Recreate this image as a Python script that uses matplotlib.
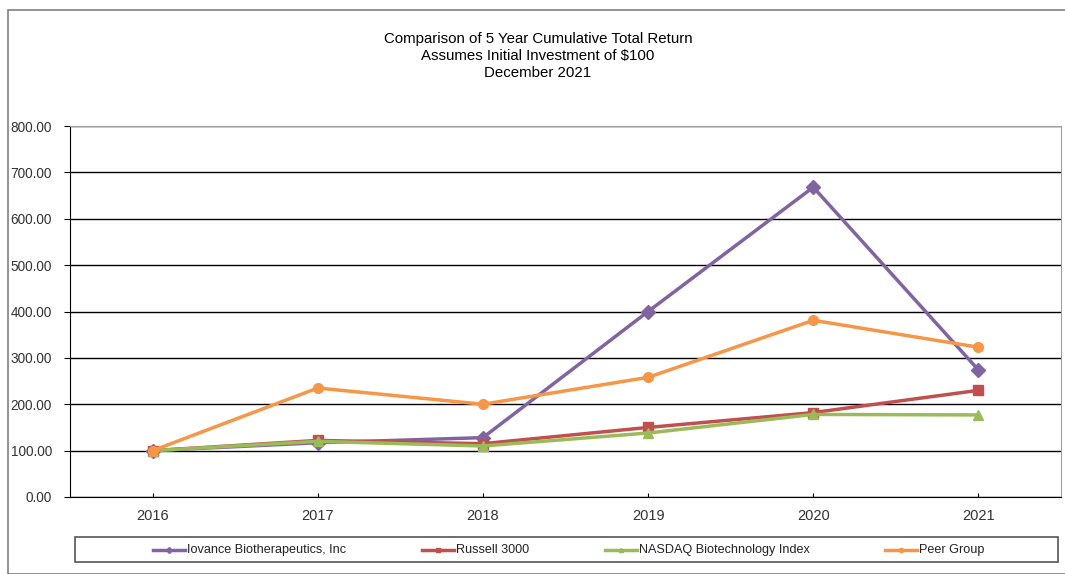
import numpy as np
import matplotlib.pyplot as plt
from matplotlib.patches import Rectangle
from matplotlib.lines import Line2D

plt.rcParams['font.family'] = ['Liberation Sans', 'DejaVu Sans']

years = ['2016', '2017', '2018', '2019', '2020', '2021']

iovance = [100, 117, 128, 400, 668, 274]
russell = [100, 122, 115, 150, 182, 230]
nasdaq = [100, 120, 110, 138, 178, 177]
peer = [100, 235, 200, 258, 381, 323]

series = [
    ('Iovance Biotherapeutics, Inc', iovance, '#8064A2', 'D'),
    ('Russell 3000', russell, '#C0504D', 's'),
    ('NASDAQ Biotechnology Index', nasdaq, '#9BBB59', '^'),
    ('Peer Group', peer, '#F79646', 'o'),
]

W, H = 1065, 574
fig = plt.figure(figsize=(W / 100, H / 100), dpi=100)

def fx(px):
    return px / W

def fy(py):
    return 1 - py / H

# outer chart frame
fig.patches.append(Rectangle((fx(8), 0), fx(W + 20), fy(10), transform=fig.transFigure,
                             fill=False, edgecolor='#808080', linewidth=1.2))

ax = fig.add_axes([fx(70), fy(497), fx(1061 - 70), (497 - 126) / H])

x = np.arange(len(years))
for name, vals, col, mk in series:
    ax.plot(x, vals, color=col, marker=mk, markersize=7, linewidth=2.5, label=name)

ax.set_xlim(-0.5, 5.5)
ax.set_ylim(0, 800)
ax.set_yticks(np.arange(0, 801, 100))
ax.set_yticklabels(['%.2f' % v for v in np.arange(0, 801, 100)])
ax.set_xticks(x)
ax.set_xticklabels(years)
ax.yaxis.grid(True, color='black', linewidth=1.0)
ax.set_axisbelow(True)

for s in ['top', 'right']:
    ax.spines[s].set_color('#a0a0a0')
for s in ['left', 'bottom']:
    ax.spines[s].set_color('black')
ax.tick_params(axis='y', direction='out', length=4, labelsize=9.8, labelcolor='#333333', pad=9)
ax.tick_params(axis='x', direction='in', length=3, labelsize=10.5, labelcolor='#333333', pad=9)

titles = ['Comparison of 5 Year Cumulative Total Return',
          'Assumes Initial Investment of $100',
          'December 2021']
for i, t in enumerate(titles):
    fig.text(fx(538), fy(39 + 17 * i), t, ha='center', va='center', fontsize=10.8)

# legend box, drawn by hand to match the spacing
fig.patches.append(Rectangle((fx(75), fy(562)), fx(1058 - 75), 25 / H, transform=fig.transFigure,
                             fill=False, edgecolor='#555555', linewidth=1.2))
leg_x = [153, 422, 605, 885]
for (name, vals, col, mk), lx in zip(series, leg_x):
    fig.lines.append(Line2D([fx(lx), fx(lx + 32)], [fy(550), fy(550)], transform=fig.transFigure,
                            color=col, linewidth=2.5))
    fig.lines.append(Line2D([fx(lx + 16)], [fy(550)], transform=fig.transFigure,
                            color=col, marker=mk, markersize=3))
    fig.text(fx(lx + 34), fy(550), name, ha='left', va='center', fontsize=9.1, color='#222222')

fig.savefig('out.png', dpi=100)
